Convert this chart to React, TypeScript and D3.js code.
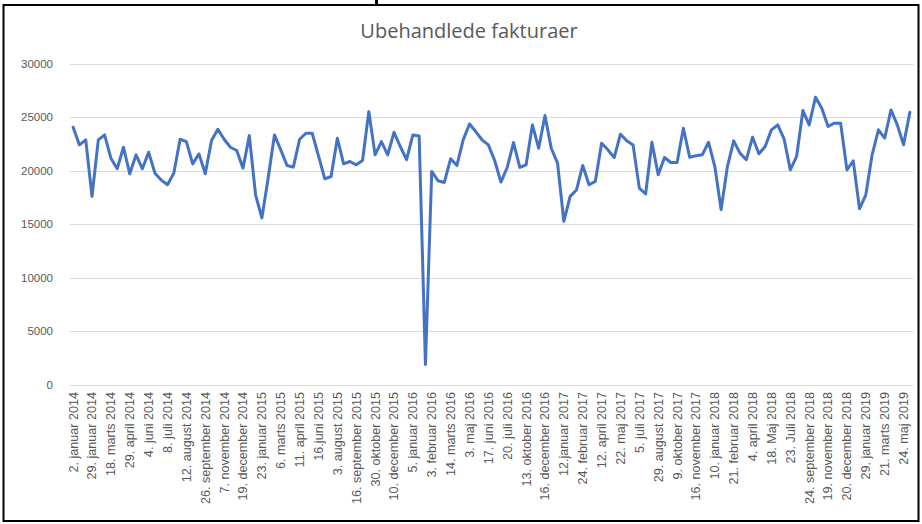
import { useEffect, useRef } from 'react';
import * as d3 from 'd3';

// weekly counts
const values = [
  24070, 22420, 22890, 17610, 22890, 23350, 21180, 20190, 22200, 19720,
  21490, 20190, 21740, 19780, 19130, 18700, 19780, 22950, 22730, 20650,
  21580, 19720, 22830, 23880, 22950, 22200, 21900, 20250, 23290, 17760,
  15590, 19320, 23350, 21960, 20500, 20340, 22950, 23510, 23510, 21400,
  19250, 19470, 23040, 20650, 20870, 20560, 20960, 25530, 21490, 22730,
  21490, 23600, 22270, 21050, 23350, 23260, 1900, 19940, 19070, 18910,
  21120, 20500, 22890, 24380, 23670, 22890, 22420, 20960, 18940, 20310,
  22640, 20310, 20560, 24290, 22110, 25160, 22110, 20710, 15280, 17610,
  18200, 20500, 18700, 19010, 22580, 21960, 21240, 23420, 22800, 22420,
  18380, 17830, 22670, 19630, 21240, 20780, 20780, 23980, 21270, 21400,
  21490, 22670, 20400, 16370, 20400, 22800, 21650, 21030, 23140, 21590,
  22270, 23830, 24290, 22990, 20090, 21340, 25630, 24290, 26870, 25850,
  24140, 24450, 24450, 20090, 20930, 16450, 17760, 21490, 23830, 23050,
  25690, 24290, 22430, 25470,
];

// every third category carries a label
const dateLabels = [
  '2. januar 2014', '29. januar 2014', '18. marts 2014', '29. april 2014',
  '4. juni 2014', '8. juli 2014', '12. august 2014', '26. september 2014',
  '7. november 2014', '19. december 2014', '23. januar 2015', '6. marts 2015',
  '11. april 2015', '16.juni 2015', '3. august 2015', '16. september 2015',
  '30. oktober 2015', '10. december 2015', '5. januar 2016', '3. februar 2016',
  '14. marts 2016', '3. maj 2016', '17. juni 2016', '20. juli 2016',
  '13. oktober 2016', '16. december 2016', '12.januar 2017', '24. februar 2017',
  '12. april 2017', '22. maj 2017', '5. juli 2017', '29. august 2017',
  '9. oktober 2017', '16. november 2017', '10. januar 2018', '21. februar 2018',
  '4. april 2018', '18. Maj 2018', '23. Juli 2018', '24. september 2018',
  '19. november 2018', '20. december 2018', '29. januar 2019', '21. marts 2019',
  '24. maj 2019',
];
const labelStep = 3;

const yTicks = [0, 5000, 10000, 15000, 20000, 25000, 30000];

export default function App() {
  const svgRef = useRef<SVGSVGElement>(null);

  useEffect(() => {
    const w = 922;
    const h = 524;
    const svg = d3.select(svgRef.current).attr('width', w).attr('height', h);
    svg.selectAll('*').remove();

    const left = 70, right = 913, top = 63.8, bottom = 384.8;

    // category axis, points in the middle of each band
    const xScale = d3.scaleBand<number>()
      .domain(d3.range(values.length))
      .range([left, right])
      .paddingInner(0)
      .paddingOuter(0);
    const xMid = (i: number) => (xScale(i) as number) + xScale.bandwidth() / 2;
    const yScale = d3.scaleLinear().domain([0, 30000]).range([bottom, top]);

    // frame
    svg.append('rect')
      .attr('x', 3.5).attr('y', 5).attr('width', 915).attr('height', 516)
      .attr('fill', 'white').attr('stroke', 'black').attr('stroke-width', 2);
    svg.append('rect')
      .attr('x', 375).attr('y', 0).attr('width', 3).attr('height', 5)
      .attr('fill', 'black');

    svg.append('text')
      .attr('x', 469).attr('y', 38)
      .attr('text-anchor', 'middle')
      .attr('font-family', 'Open Sans, sans-serif')
      .attr('font-size', 20)
      .attr('fill', '#595959')
      .text('Ubehandlede fakturaer');

    // gridlines
    svg.append('g').selectAll('line').data(yTicks).join('line')
      .attr('x1', left).attr('x2', right)
      .attr('y1', d => Math.round(yScale(d)) + 0.5)
      .attr('y2', d => Math.round(yScale(d)) + 0.5)
      .attr('stroke', '#d9d9d9').attr('stroke-width', 1);

    // y labels
    svg.append('g').selectAll('text').data(yTicks).join('text')
      .attr('x', 53)
      .attr('y', d => yScale(d))
      .attr('dy', '0.35em')
      .attr('text-anchor', 'end')
      .attr('font-family', 'Liberation Sans, Arial, sans-serif')
      .attr('font-size', 11.5)
      .attr('fill', '#595959')
      .text(d => String(d));

    // x labels, rotated
    svg.append('g').selectAll('text').data(dateLabels).join('text')
      .attr('transform', (d, i) => `translate(${xMid(i * labelStep)}, 392) rotate(-90)`)
      .attr('dy', '0.35em')
      .attr('text-anchor', 'end')
      .attr('font-family', 'Liberation Sans, Arial, sans-serif')
      .attr('font-size', 12.6)
      .attr('fill', '#595959')
      .text(d => d);

    const line = d3.line<number>()
      .x((d, i) => xMid(i))
      .y(d => yScale(d));

    svg.append('path')
      .datum(values)
      .attr('d', line)
      .attr('fill', 'none')
      .attr('stroke', '#4472c4')
      .attr('stroke-width', 3)
      .attr('stroke-linejoin', 'round')
      .attr('stroke-linecap', 'round');
  }, []);

  return (
    <div style={{ position: 'absolute', left: 0, top: 0 }}>
      <svg ref={svgRef}></svg>
    </div>
  );
}
